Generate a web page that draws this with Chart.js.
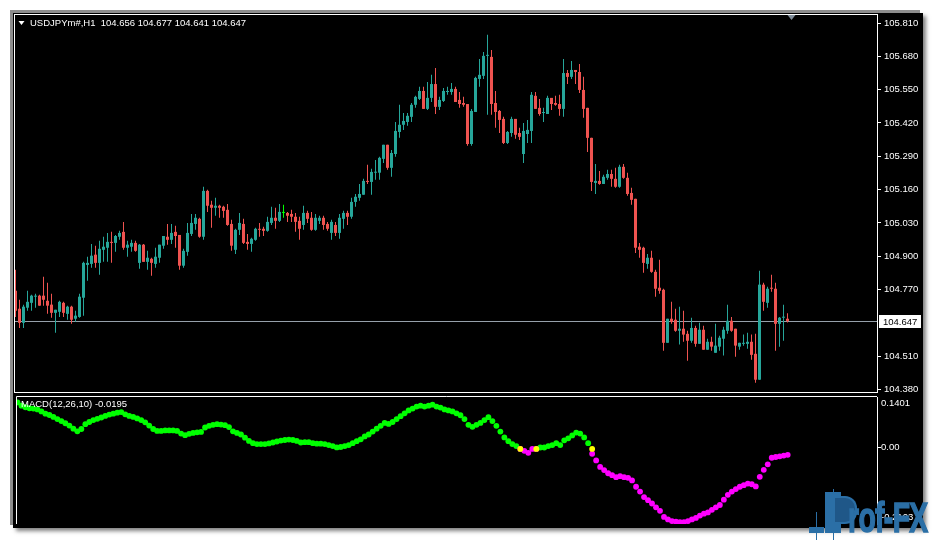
<!DOCTYPE html>
<html>
<head>
<meta charset="utf-8">
<title>USDJPYm#,H1</title>
<script src="https://cdn.jsdelivr.net/npm/chart.js@4.4.1/dist/chart.umd.min.js"></script>
<style>
  html, body { margin: 0; padding: 0; background: #fff; }
  body { width: 936px; height: 540px; position: relative; overflow: hidden; }
  #win { position: absolute; left: 13px; top: 13px; width: 910px; height: 515px; background: #000;
         box-shadow: -3px -3px 0 0 #8c8c8c, 3px 3px 4px rgba(0,0,0,.5); }
  canvas { position: absolute; left: 13px; }
  #cPrice { top: 13px; }
  #cMacd { top: 393px; }
  #logo { position: absolute; left: 805px; top: 488px; width: 130px; height: 52px; z-index: 5; }
  #logo .stem { position: absolute; left: 20px; top: 4px; width: 16px; height: 41px; background: #2b6fa6; }
  #logo .bowl { position: absolute; left: 30px; top: 8px; width: 20px; height: 24px; background: #1f5788;
                border-radius: 0 12px 12px 0; border: 2px solid #2b6fa6; border-left: 0; }
  #logo .c1 { position: absolute; left: 4px; top: 39px; width: 15px; height: 6px; background: #2b6fa6; }
  #logo .w1 { position: absolute; left: 11px; top: 24px; width: 1px; height: 28px; background: #2b6fa6; }
  #logo .w2 { position: absolute; left: 28px; top: 1px; width: 1px; height: 51px; background: #2b6fa6; }
  #logo .txt { position: absolute; left: 43px; top: 8px; font: bold 43px 'Liberation Sans', Arial, sans-serif;
               line-height: 43px; color: #2b6fa6; -webkit-text-stroke: 1.5px #2b6fa6; letter-spacing: -1px;
               transform: scaleX(0.66); transform-origin: 0 0; white-space: nowrap; }
</style>
</head>
<body>
<div id="win"></div>
<canvas id="cPrice" width="910" height="381"></canvas>
<canvas id="cMacd" width="910" height="135"></canvas>
<div id="logo"><div class="w1"></div><div class="c1"></div><div class="w2"></div><div class="stem"></div><div class="bowl"></div><span class="txt">rof-FX</span></div>
<script>
// USDJPYm#, H1 candles, oldest first
const opens = [
  104.765,104.695,104.640,104.699,104.718,104.742,104.746,104.746,104.726,104.711,
  104.679,104.683,104.718,104.675,104.703,104.656,104.663,104.738,104.866,104.870,
  104.906,104.874,104.925,104.933,104.956,104.952,104.976,104.995,104.933,104.937,
  104.952,104.874,104.945,104.878,104.890,104.870,104.894,104.941,104.976,104.964,
  104.995,104.983,104.863,104.917,104.987,105.026,105.046,104.976,105.155,105.101,
  105.089,105.097,105.093,105.081,105.026,104.925,105.003,105.026,104.956,104.948,
  104.964,105.007,105.007,104.999,105.030,105.050,105.038,105.069,105.069,105.065,
  105.054,105.038,105.022,105.069,105.050,105.003,105.038,105.050,105.026,104.991,
  105.022,104.991,105.046,105.069,105.054,105.112,105.128,105.140,105.194,105.190,
  105.226,105.226,105.280,105.335,105.245,105.299,105.385,105.413,105.424,105.444,
  105.491,105.514,105.545,105.475,105.518,105.572,105.483,105.506,105.541,105.541,
  105.553,105.510,105.498,105.494,105.338,105.463,105.592,105.604,105.682,105.678,
  105.498,105.467,105.436,105.342,105.381,105.436,105.381,105.299,105.377,105.389,
  105.526,105.479,105.459,105.455,105.518,105.498,105.494,105.475,105.615,105.600,
  105.627,105.619,105.549,105.479,105.362,105.186,105.194,105.182,105.206,105.221,
  105.202,105.171,105.249,105.206,105.147,105.124,104.937,104.933,104.870,104.894,
  104.839,104.777,104.769,104.562,104.656,104.652,104.609,104.617,104.597,104.570,
  104.620,104.558,104.613,104.535,104.566,104.523,104.547,104.578,104.609,104.648,
  104.617,104.547,104.558,104.558,104.566,104.519,104.418,104.789,104.718,104.777,
  104.773,104.636,104.660,104.656
];
const highs = [
  104.847,104.730,104.711,104.765,104.750,104.753,104.750,104.820,104.796,104.753,
  104.691,104.726,104.722,104.707,104.707,104.687,104.753,104.878,104.898,104.948,
  104.941,104.960,104.976,104.991,104.995,104.983,104.999,105.034,104.960,104.964,
  104.960,104.948,104.948,104.921,104.894,104.933,104.945,104.979,105.026,105.026,
  105.019,104.983,104.929,105.030,105.065,105.065,105.050,105.171,105.159,105.116,
  105.128,105.101,105.097,105.104,105.042,105.007,105.069,105.046,104.987,104.972,
  105.011,105.030,105.015,105.054,105.093,105.089,105.104,105.101,105.073,105.081,
  105.069,105.054,105.097,105.077,105.073,105.065,105.058,105.058,105.034,105.042,
  105.034,105.065,105.077,105.077,105.128,105.143,105.182,105.202,105.257,105.241,
  105.276,105.288,105.335,105.335,105.315,105.424,105.491,105.459,105.459,105.498,
  105.526,105.561,105.561,105.580,105.608,105.635,105.522,105.557,105.561,105.576,
  105.561,105.541,105.522,105.494,105.475,105.600,105.670,105.697,105.764,105.705,
  105.545,105.471,105.444,105.389,105.444,105.436,105.401,105.420,105.432,105.541,
  105.541,105.514,105.479,105.526,105.518,105.526,105.530,105.670,105.627,105.662,
  105.627,105.650,105.600,105.479,105.362,105.260,105.233,105.218,105.237,105.237,
  105.245,105.257,105.260,105.226,105.167,105.124,104.952,104.937,104.909,104.921,
  104.847,104.886,104.773,104.656,104.722,104.695,104.703,104.687,104.609,104.660,
  104.629,104.640,104.629,104.578,104.586,104.636,104.590,104.625,104.711,104.663,
  104.617,104.562,104.594,104.601,104.594,104.597,104.843,104.796,104.781,104.828,
  104.796,104.663,104.711,104.677
];
const lows = [
  104.663,104.620,104.620,104.687,104.687,104.699,104.707,104.707,104.675,104.660,
  104.601,104.663,104.663,104.652,104.636,104.644,104.660,104.668,104.804,104.855,
  104.855,104.828,104.878,104.878,104.874,104.917,104.964,104.925,104.898,104.917,
  104.917,104.851,104.878,104.847,104.824,104.855,104.874,104.929,104.945,104.948,
  104.933,104.847,104.855,104.902,104.979,105.003,104.972,104.964,105.073,105.011,
  105.058,105.050,105.050,105.019,104.921,104.909,104.983,104.948,104.925,104.917,
  104.960,104.976,104.979,104.995,105.022,105.007,105.034,105.050,105.034,105.034,
  104.995,104.964,105.003,105.030,104.999,104.999,105.026,105.003,104.999,104.964,
  104.979,104.968,105.007,105.022,105.046,105.093,105.116,105.140,105.182,105.140,
  105.198,105.198,105.264,105.237,105.210,105.288,105.362,105.393,105.409,105.424,
  105.479,105.510,105.475,105.471,105.502,105.455,105.471,105.502,105.530,105.530,
  105.502,105.479,105.483,105.331,105.331,105.463,105.561,105.592,105.452,105.452,
  105.401,105.381,105.338,105.338,105.366,105.358,105.354,105.264,105.342,105.342,
  105.475,105.448,105.424,105.455,105.471,105.487,105.448,105.444,105.572,105.592,
  105.572,105.537,105.440,105.307,105.155,105.143,105.179,105.182,105.198,105.171,
  105.167,105.167,105.202,105.136,105.101,104.913,104.894,104.835,104.851,104.835,
  104.742,104.753,104.531,104.562,104.636,104.605,104.555,104.566,104.492,104.562,
  104.547,104.558,104.535,104.535,104.531,104.523,104.531,104.512,104.597,104.605,
  104.508,104.535,104.551,104.539,104.496,104.406,104.418,104.687,104.699,104.761,
  104.531,104.547,104.570,104.641
];
const closes = [
  104.687,104.640,104.703,104.722,104.746,104.746,104.707,104.730,104.707,104.679,
  104.691,104.722,104.679,104.703,104.652,104.668,104.742,104.874,104.874,104.902,
  104.874,104.929,104.937,104.956,104.952,104.979,104.991,104.933,104.945,104.952,
  104.921,104.945,104.878,104.894,104.874,104.898,104.945,104.979,104.964,104.991,
  104.979,104.863,104.921,104.991,105.030,105.050,104.976,105.155,105.097,105.089,
  105.097,105.089,105.077,105.022,104.941,105.003,105.030,104.952,104.948,104.968,
  105.007,105.003,104.999,105.034,105.050,105.038,105.073,105.069,105.058,105.054,
  105.034,105.007,105.069,105.046,105.003,105.050,105.050,105.022,105.007,105.034,
  104.991,105.050,105.069,105.054,105.112,105.132,105.143,105.194,105.190,105.229,
  105.229,105.284,105.335,105.245,105.303,105.389,105.413,105.428,105.448,105.491,
  105.522,105.545,105.475,105.518,105.572,105.483,105.510,105.545,105.545,105.553,
  105.502,105.494,105.491,105.338,105.467,105.596,105.608,105.682,105.686,105.494,
  105.463,105.432,105.342,105.385,105.436,105.374,105.366,105.389,105.393,105.530,
  105.475,105.455,105.462,105.518,105.494,105.491,105.475,105.615,105.600,105.627,
  105.619,105.549,105.475,105.362,105.190,105.194,105.182,105.210,105.221,105.202,
  105.171,105.249,105.206,105.143,105.120,104.933,104.925,104.874,104.894,104.839,
  104.773,104.765,104.562,104.656,104.644,104.609,104.617,104.594,104.570,104.620,
  104.558,104.613,104.535,104.566,104.547,104.551,104.582,104.613,104.648,104.609,
  104.551,104.562,104.562,104.566,104.515,104.418,104.789,104.722,104.773,104.773,
  104.636,104.660,104.663,104.647
];

// price axis
const priceMin = 104.370, priceMax = 105.8415;
const priceTicks = [105.810, 105.680, 105.550, 105.420, 105.290, 105.160, 105.030, 104.900, 104.770, 104.510, 104.380];

// MACD(12,26,10), one value per candle
const macdValues = [
  0.1250,0.1163,0.1118,0.1091,0.1083,0.1057,0.1003,0.0942,0.0905,0.0852,
  0.0791,0.0738,0.0677,0.0613,0.0526,0.0454,0.0518,0.0650,0.0711,0.0765,
  0.0799,0.0836,0.0879,0.0916,0.0942,0.0969,0.0985,0.0924,0.0879,0.0852,
  0.0810,0.0765,0.0703,0.0613,0.0518,0.0465,0.0465,0.0480,0.0480,0.0480,
  0.0465,0.0393,0.0348,0.0385,0.0411,0.0427,0.0438,0.0560,0.0605,0.0632,
  0.0650,0.0640,0.0624,0.0571,0.0454,0.0411,0.0366,0.0279,0.0188,0.0127,
  0.0101,0.0101,0.0101,0.0119,0.0146,0.0173,0.0199,0.0215,0.0226,0.0215,
  0.0188,0.0146,0.0154,0.0154,0.0127,0.0114,0.0114,0.0101,0.0074,0.0048,
  0.0010,0.0021,0.0048,0.0074,0.0127,0.0181,0.0234,0.0313,0.0366,0.0446,
  0.0526,0.0605,0.0685,0.0658,0.0711,0.0791,0.0871,0.0950,0.1030,0.1083,
  0.1136,0.1163,0.1136,0.1163,0.1189,0.1136,0.1110,0.1057,0.1030,0.1003,
  0.0950,0.0897,0.0791,0.0632,0.0579,0.0632,0.0685,0.0765,0.0844,0.0738,
  0.0605,0.0446,0.0287,0.0181,0.0101,0.0048,-0.0032,-0.0085,-0.0138,-0.0032,
  -0.0032,0.0008,0.0008,0.0048,0.0074,0.0127,0.0074,0.0207,0.0260,0.0340,
  0.0419,0.0393,0.0287,0.0127,-0.0165,-0.0350,-0.0528,-0.0616,-0.0703,-0.0757,
  -0.0810,-0.0783,-0.0810,-0.0828,-0.0900,-0.1075,-0.1208,-0.1359,-0.1447,-0.1537,
  -0.1643,-0.1739,-0.1909,-0.1978,-0.2023,-0.2041,-0.2049,-0.2049,-0.2023,-0.1978,
  -0.1935,-0.1871,-0.1818,-0.1784,-0.1712,-0.1643,-0.1579,-0.1431,-0.1298,-0.1208,
  -0.1139,-0.1075,-0.1033,-0.0988,-0.1006,-0.1067,-0.0802,-0.0608,-0.0457,-0.0275,
  -0.0255,-0.0235,-0.0215,-0.0195
];
// yellow cross dots (bar number, value)
const crossBars = [127, 131, 145];
const crossValues = [-0.0032, -0.0032, -0.0032];
const macdMin = -0.2103, macdMax = 0.1401;

const titleText = 'USDJPYm#,H1  104.656 104.677 104.641 104.647';
const macdText = 'MACD(12,26,10) -0.0195';

// ------------------------------------------------------------
const BULL = '#26a69a', BEAR = '#ef5350', DOJI = '#00ff00';
const FONT = "'Liberation Sans', Arial, sans-serif";
const FSIZE = 9.5;
Chart.defaults.font.family = FONT;

const idx = opens.map((_, i) => i);
const candleCol = idx.map(i => closes[i] > opens[i] ? BULL : closes[i] < opens[i] ? BEAR : DOJI);
const lastClose = closes[closes.length - 1];

// 4px per bar, first bar on the left edge
const X_MIN = 0.875, X_MAX = 216.375;
const xScale = { type: 'linear', display: false, min: X_MIN, max: X_MAX, offset: false };

const rightAxis = (width, pad, fmt) => ({
  position: 'right',
  afterFit: s => { s.width = width; s.paddingTop = 0; s.paddingBottom = 0; },
  grid: { drawOnChartArea: false, drawTicks: true, tickLength: 4, color: '#fff' },
  border: { display: true, color: '#fff', width: 1 },
  ticks: { color: '#fff', font: { size: FSIZE, family: FONT }, padding: pad, autoSkip: false, callback: fmt }
});

const priceDecor = {
  id: 'priceDecor',
  beforeDatasetsDraw(chart) {
    const { ctx, chartArea: a, scales: { y } } = chart;
    const yy = Math.round(y.getPixelForValue(lastClose)) + 0.5;
    ctx.save();
    ctx.strokeStyle = '#96a0aa';
    ctx.lineWidth = 1;
    ctx.beginPath(); ctx.moveTo(a.left, yy); ctx.lineTo(a.right, yy); ctx.stroke();
    ctx.restore();
  },
  afterDraw(chart) {
    const { ctx, chartArea: a, scales: { x, y } } = chart;
    ctx.save();
    // panel frame
    ctx.strokeStyle = '#fff'; ctx.lineWidth = 1;
    ctx.strokeRect(a.left - 0.5, a.top - 0.5, a.right - a.left + 1, a.bottom - a.top + 1);

    // bid label on the axis
    const yy = Math.round(y.getPixelForValue(lastClose)) + 0.5;
    ctx.fillStyle = '#fff';
    ctx.fillRect(a.right + 2, yy - 6.5, 42, 13);
    ctx.fillStyle = '#000';
    ctx.font = FSIZE + 'px ' + FONT;
    ctx.textBaseline = 'middle';
    ctx.fillText(lastClose.toFixed(3), a.right + 6, yy + 0.5);

    // symbol line
    ctx.fillStyle = '#fff';
    ctx.beginPath();
    ctx.moveTo(a.left + 3.5, a.top + 6); ctx.lineTo(a.left + 9.5, a.top + 6); ctx.lineTo(a.left + 6.5, a.top + 10);
    ctx.closePath(); ctx.fill();
    ctx.fillText(titleText, a.left + 15, a.top + 8);

    // chart shift marker
    const sx = Math.round(x.getPixelForValue(opens.length + 0.75)) + 0.5;
    ctx.fillStyle = '#7f8c99';
    ctx.beginPath();
    ctx.moveTo(sx - 4, a.top); ctx.lineTo(sx + 4, a.top); ctx.lineTo(sx, a.top + 5);
    ctx.closePath(); ctx.fill();
    ctx.restore();
  }
};

new Chart(document.getElementById('cPrice'), {
  type: 'bar',
  data: {
    datasets: [
      { label: 'body', data: idx.map(i => ({ x: i + 1, y: [Math.min(opens[i], closes[i]), Math.max(opens[i], closes[i])] })),
        backgroundColor: candleCol, barThickness: 3, minBarLength: 1, grouped: false, borderWidth: 0, inflateAmount: 0 },
      { label: 'wick', data: idx.map(i => ({ x: i + 1, y: [lows[i], highs[i]] })),
        backgroundColor: candleCol, barThickness: 1, grouped: false, borderWidth: 0, inflateAmount: 0 }
    ]
  },
  options: {
    responsive: false, animation: false, devicePixelRatio: 1,
    layout: { padding: { left: 2, top: 2, right: 0, bottom: 2 } },
    plugins: { legend: { display: false }, tooltip: { enabled: false } },
    scales: {
      x: xScale,
      y: Object.assign(rightAxis(46, 3, v => v.toFixed(3)), {
        min: priceMin, max: priceMax, beginAtZero: false,
        afterBuildTicks: s => { s.ticks = priceTicks.map(v => ({ value: v })); }
      })
    }
  },
  plugins: [priceDecor]
});

const macdDecor = {
  id: 'macdDecor',
  afterDraw(chart) {
    const { ctx, chartArea: a } = chart;
    ctx.save();
    ctx.strokeStyle = '#fff'; ctx.lineWidth = 1;
    ctx.beginPath();
    ctx.moveTo(a.left - 0.5, a.bottom); ctx.lineTo(a.left - 0.5, a.top - 0.5); ctx.lineTo(a.right, a.top - 0.5);
    ctx.stroke();
    ctx.fillStyle = '#fff';
    ctx.font = FSIZE + 'px ' + FONT;
    ctx.textBaseline = 'middle';
    ctx.fillText(macdText, a.left + 4, a.top + 7.5);
    ctx.fillText(macdMax.toFixed(4), a.right + 4, a.top + 6);
    ctx.fillText(macdMin.toFixed(4), a.right + 4, a.bottom - 7);
    ctx.restore();
  }
};

const dots = (pts, color) => ({ data: pts, backgroundColor: color, pointRadius: 2.9, pointBorderWidth: 0, borderWidth: 0, showLine: false });

new Chart(document.getElementById('cMacd'), {
  type: 'scatter',
  data: {
    datasets: [
      dots(crossBars.map((b, j) => ({ x: b, y: crossValues[j] })), '#ffff00'),
      dots(idx.filter(i => macdValues[i] < 0).map(i => ({ x: i + 1, y: macdValues[i] })), '#ff00ff'),
      dots(idx.filter(i => macdValues[i] >= 0).map(i => ({ x: i + 1, y: macdValues[i] })), '#00ff00')
    ]
  },
  options: {
    responsive: false, animation: false, devicePixelRatio: 1,
    layout: { padding: { left: 2, top: 2, right: 0, bottom: 0 } },
    plugins: { legend: { display: false }, tooltip: { enabled: false } },
    scales: {
      x: xScale,
      y: Object.assign(rightAxis(46, 0, v => v.toFixed(2)), {
        min: macdMin, max: macdMax,
        afterBuildTicks: s => { s.ticks = [{ value: 0 }]; }
      })
    }
  },
  plugins: [macdDecor]
});
</script>
</body>
</html>
